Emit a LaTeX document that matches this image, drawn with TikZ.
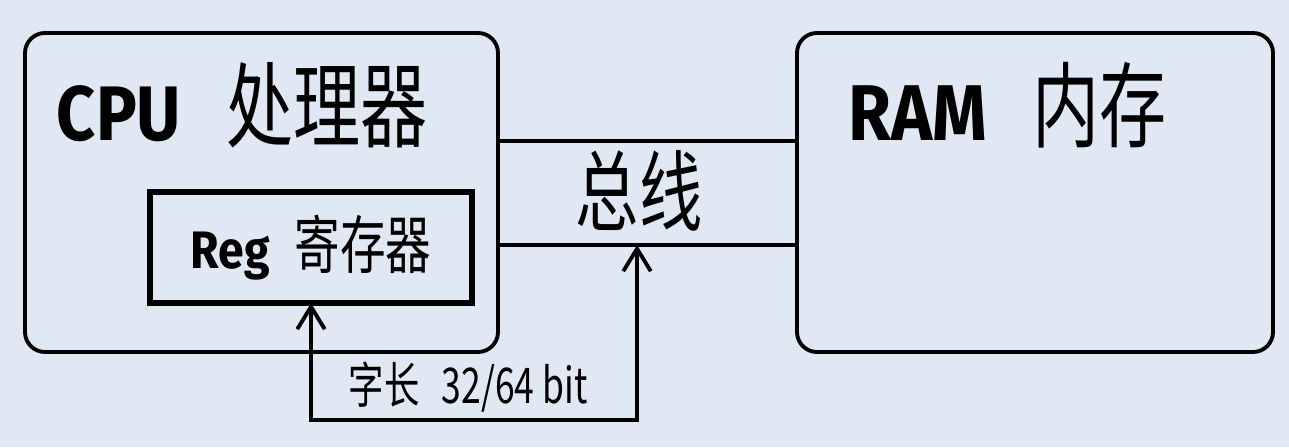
\documentclass[tikz,border=0pt]{standalone}
\usepackage{fontspec}
\setmainfont{Fira Sans}
\newfontfamily\cjk[FakeStretch=0.72]{Noto Sans CJK SC}
\newfontfamily\latinbf[FakeStretch=0.88]{Fira Sans}
\usepackage{tikz}
\usetikzlibrary{positioning,arrows.meta}
\definecolor{paper}{RGB}{224,232,243}

\begin{document}
\begin{tikzpicture}[>={Straight Barb[length=4.5mm,width=5.5mm]},line width=2.2pt,
    unit/.style={draw,rounded corners=0.4cm,outer sep=0pt,minimum width=9.46cm,minimum height=6.38cm},
    regbox/.style={draw,line width=3pt,outer sep=0pt,minimum width=6.44cm,minimum height=2.22cm},
    title/.style={anchor=west,inner sep=0pt}]
    \fill[paper] (0,0) rectangle (25.78,8.94);
    \node[unit] (cpu) at (5.23,5.09) {};
    \node[unit,minimum width=9.52cm,right=5.98cm of cpu] (ram) {};
    \node[regbox,above right=0.98cm and 2.5cm of cpu.south west] (reg)
      {{\latinbf\bfseries\fontsize{30}{30}\selectfont Reg}\hspace{0.5cm}{\cjk\fontsize{36}{36}\selectfont 寄存器}};
    \node[title] (cpuname) at (1.1,6.84)
      {{\latinbf\bfseries\fontsize{44}{44}\selectfont CPU}\hspace{0.9cm}{\cjk\fontsize{53}{53}\selectfont 处理器}};
    \node[title] (ramname) at (16.94,6.84)
      {{\latinbf\bfseries\fontsize{45}{45}\selectfont RAM}\hspace{0.9cm}{\cjk\fontsize{53}{53}\selectfont 内存}};
    % bus
    \draw ([yshift=1.03cm]cpu.east) -- ([yshift=1.03cm]ram.west);
    \draw ([yshift=-1.05cm]cpu.east) -- coordinate[pos=0.465] (buslow) ([yshift=-1.05cm]ram.west);
    \node (bus) at (12.78,5.12) {\cjk\fontsize{50}{50}\selectfont 总线};
    % word length
    \draw[<->] (reg.south) -- ++(0,-2.34) -| (buslow);
    \node (wordlen) at (9.36,1.20) {\cjk\fontsize{28}{28}\selectfont 字长\hspace{0.45cm}32/64 bit};
\end{tikzpicture}
\end{document}
